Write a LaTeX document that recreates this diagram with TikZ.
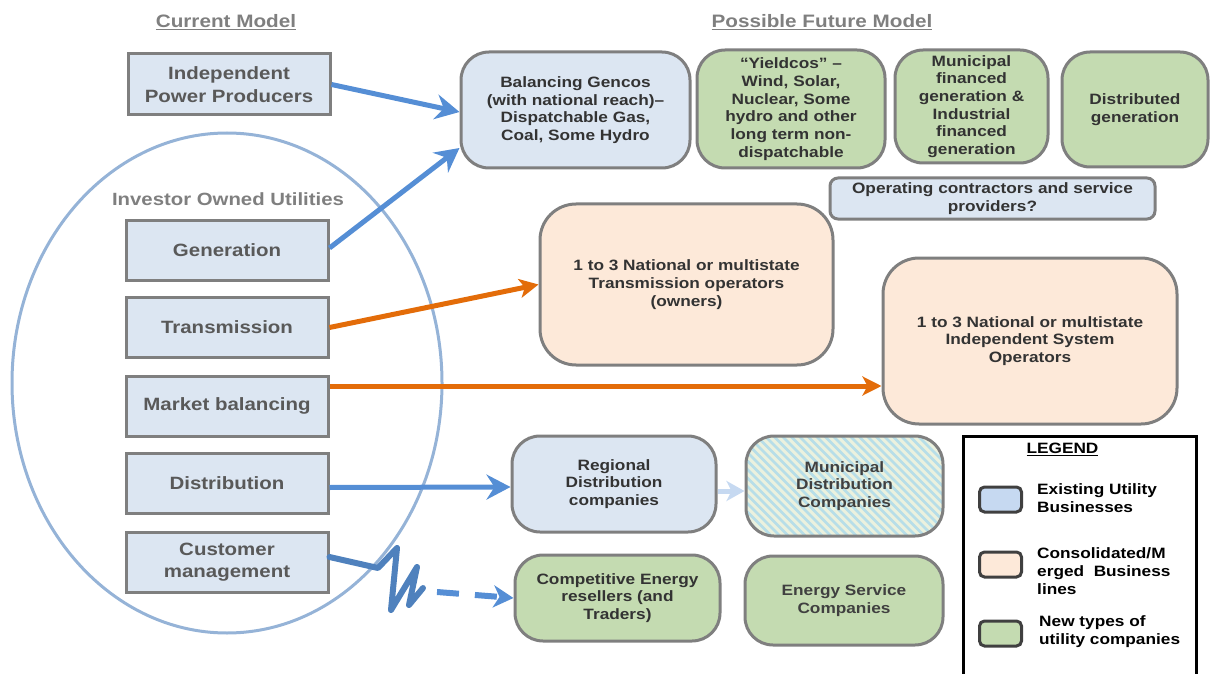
\documentclass[tikz,border=0pt]{standalone}
\usepackage{fontspec}
\setmainfont{Liberation Sans}[FakeStretch=1.15]
\usetikzlibrary{arrows.meta,calc,shapes.geometric}
\definecolor{boxblue}{HTML}{DCE6F2}
\definecolor{boxgreen}{HTML}{C4DBB1}
\definecolor{boxorange}{HTML}{FDE9D9}
\definecolor{bordergrey}{HTML}{7F7F7F}
\definecolor{lefttext}{HTML}{595959}
\definecolor{righttext}{HTML}{333333}
\definecolor{arrblue}{HTML}{558ED5}
\definecolor{arrorange}{HTML}{E36C09}
\definecolor{ellblue}{HTML}{95B3D7}
\definecolor{zigblue}{HTML}{4F81BD}
\definecolor{paleblue}{HTML}{C6D9F1}
\definecolor{stripeblue}{HTML}{B7DEE8}
\definecolor{stripebg}{HTML}{EBF1DE}
\definecolor{legblue}{HTML}{C6D9F1}
\definecolor{legborder}{HTML}{404040}
\begin{document}
\begin{tikzpicture}[x=1pt,y=-1pt,
  hdr/.style={text=bordergrey,font=\fontsize{18}{22}\selectfont\bfseries},
  leftbox/.style={rectangle,draw=bordergrey,line width=3pt,fill=boxblue,
    minimum width=202,minimum height=60,align=center,text=lefttext,
    font=\fontsize{17.8}{22.5}\selectfont\bfseries},
  futbox/.style={rectangle,rounded corners=28pt,draw=bordergrey,line width=3pt,
    align=center,text=righttext,inner sep=2pt,
    font=\fontsize{15}{17.7}\selectfont\bfseries},
  blueft/.style={futbox,fill=boxblue},
  greenft/.style={futbox,fill=boxgreen},
  orangeft/.style={futbox,fill=boxorange,rounded corners=36pt},
  swatch/.style={rectangle,rounded corners=5pt,draw=legborder,line width=3pt,
    minimum width=42,minimum height=25},
  legtext/.style={anchor=west,align=left,text=black,inner sep=0pt,
    font=\fontsize{15}{17.8}\selectfont\bfseries},
  bluearrow/.style={draw=arrblue,line width=5pt,
    -{Stealth[length=24pt,width=25pt,inset=8pt]}},
  orangearrow/.style={draw=arrorange,line width=5pt,
    -{Stealth[length=19pt,width=19pt,inset=5pt]}},
  palearrow/.style={draw=paleblue,line width=5pt,
    -{Stealth[length=18pt,width=20pt,inset=5pt]}},
  zig/.style={draw=zigblue,line width=6pt,line join=round,line cap=round},
  dasharrow/.style={draw=arrblue,line width=6pt,dash pattern=on 22pt off 16pt,
    -{Stealth[length=20pt,width=22pt,inset=6pt]}},
  stripe/.style={draw=stripeblue,line width=2.8pt}
]
\useasboundingbox (0,0) rectangle (1211,674);

% ellipse (Investor Owned Utilities)
\draw[ellblue,line width=3pt] (227,383) ellipse [x radius=215,y radius=250];

% headers
\node[hdr] (cur) at (226,22) {\underline{Current Model}};
\node[hdr] (fut) at (822,22) {\underline{Possible Future Model}};
\node[hdr,text=bordergrey,font=\fontsize{17.7}{22}\selectfont\bfseries] (iou) at (228,199) {Investor Owned Utilities};

% left boxes
\node[leftbox,minimum height=61] (ipp) at (229,84.5) {Independent\\Power Producers};
\node[leftbox] (gen) at (227,250) {Generation};
\node[leftbox] (tr) at (227,327.5) {Transmission};
\node[leftbox] (mb) at (227,406) {Market balancing};
\node[leftbox] (dist) at (227,483.5) {Distribution};
\node[leftbox] (cm) at (227,562) {Customer\\management};

% future boxes
\node[blueft,minimum width=229,minimum height=116] (bal) at (575.5,110)
  {Balancing Gencos\\(with national reach)--\\Dispatchable Gas,\\Coal, Some Hydro};
\node[greenft,minimum width=188,minimum height=118] (yield) at (791,109)
  {``Yieldcos'' --\\Wind, Solar,\\Nuclear, Some\\hydro and other\\long term non-\\dispatchable};
\node[greenft,minimum width=153,minimum height=113] (munfin) at (971.5,106.5)
  {Municipal\\financed\\generation \&\\Industrial\\financed\\generation};
\node[greenft,minimum width=146,minimum height=115] (distgen) at (1135,109.5)
  {Distributed\\generation};
\node[blueft,rounded corners=8pt,minimum width=325,minimum height=41] (oper) at (992.5,198.5)
  {Operating contractors and service\\providers?};
\node[orangeft,minimum width=293,minimum height=161] (tso) at (686.5,284.5)
  {1 to 3 National or multistate\\Transmission operators\\(owners)};
\node[orangeft,minimum width=294,minimum height=166] (iso) at (1030,341)
  {1 to 3 National or multistate\\Independent System\\Operators};
\node[blueft,minimum width=204,minimum height=96] (reg) at (614,484)
  {Regional\\Distribution\\companies};
\node[futbox,fill=stripebg,text=legborder,minimum width=197,minimum height=100,
  path picture={\foreach \i in {-16,...,25}
    \draw[stripe] ($(path picture bounding box.north west)+(\i*8.5,-2)$) -- ++(130,130);}]
  (mun) at (844.5,486) {Municipal\\Distribution\\Companies};
\node[greenft,minimum width=205,minimum height=86] (comp) at (617.5,598)
  {Competitive Energy\\resellers (and\\Traders)};
\node[greenft,text=legborder,minimum width=198,minimum height=89] (esco) at (844,600.5)
  {Energy Service\\Companies};

% legend
\node[rectangle,draw=black,line width=3pt,minimum width=233,minimum height=260,
  anchor=north west] (leg) at (962,435) {};
\node[text=black,font=\fontsize{15}{18}\selectfont\bfseries] (legt) at (1062.5,449) {\underline{LEGEND}};
\node[swatch,fill=legblue] (sw1) at (1000.5,499.5) {};
\node[swatch,fill=boxorange] (sw2) at (1000.5,564.5) {};
\node[swatch,fill=boxgreen] (sw3) at (1000.5,633.5) {};
\node[legtext] (l1) at (1037,498) {Existing Utility\\Businesses};
\node[legtext] (l2) at (1037,571) {Consolidated/M\\erged\ \ Business\\lines};
\node[legtext] (l3) at (1039,632) {New types of\\utility companies};

% connectors
\draw[bluearrow] (ipp.east) -- ($(bal.west)+(0,2)$);
\draw[bluearrow] ($(gen.east)+(0,-2)$) -- ($(bal.west)+(0,38)$);
\draw[orangearrow] (tr.east) -- (tso.west);
\draw[orangearrow] ($(mb.east)+(0,-20)$) coordinate (mbs) -- (mbs -| iso.west);
\draw[bluearrow] ($(dist.east)+(0,4)$) -- ($(reg.west)+(0,3)$);
\draw[palearrow] ($(reg.east)+(0,7)$) -- ($(mun.west)+(0,5)$);

% customer management zigzag + dashed arrow
\draw[zig] ($(cm.east)+(0,-5)$) -- (378,568) -- (397,548) -- (391,610) -- (417,567) -- (409,605) -- (423,588);
\coordinate (zz) at (437,592);
\draw[dasharrow] (zz) -- (comp.west);
\end{tikzpicture}
\end{document}
